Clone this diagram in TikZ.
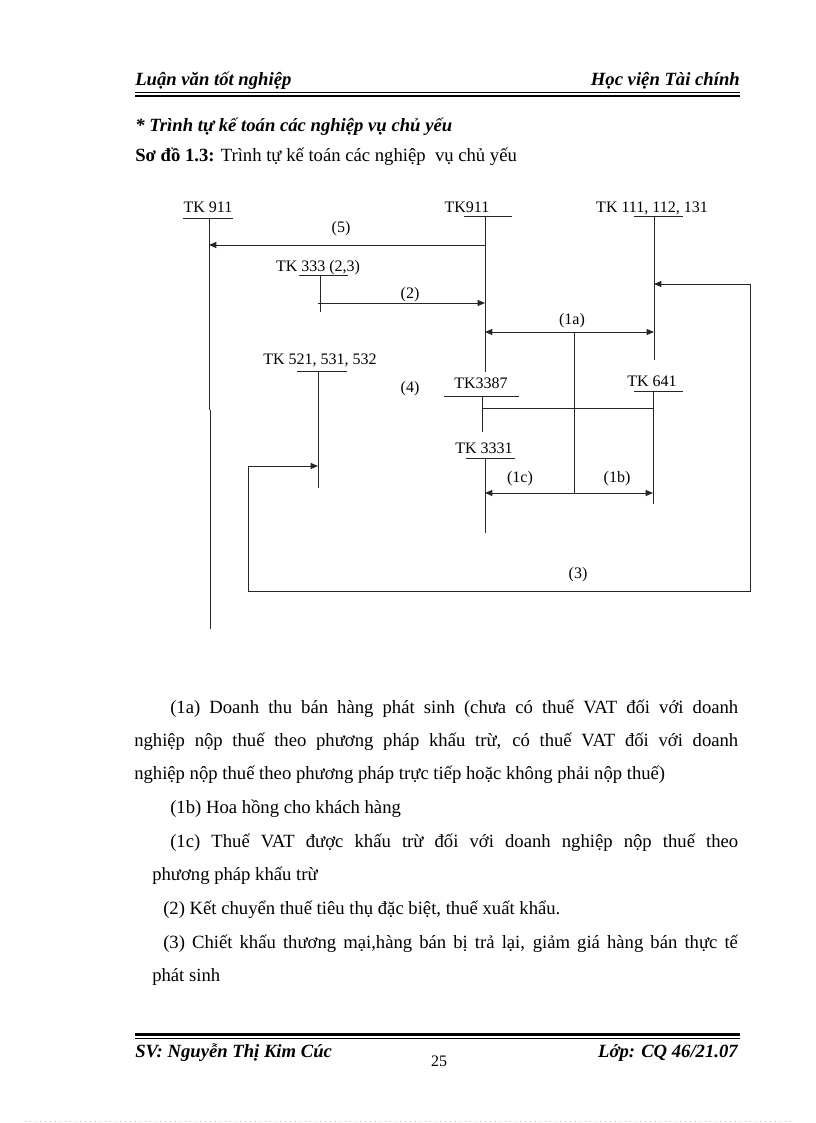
\documentclass[tikz,border=0pt]{standalone}
\usepackage{fontspec}
\setmainfont{Liberation Serif}
\usetikzlibrary{arrows.meta}
\begin{document}
\begin{tikzpicture}[x=0.75pt,y=-0.75pt,
  ln/.style={line width=0.75pt, draw=black!85},
  arr/.style={ln, -{Triangle[length=5.5pt,width=4.5pt]}},
  darr/.style={ln, {Triangle[length=5.5pt,width=4.5pt]}-{Triangle[length=5.5pt,width=4.5pt]}},
  lbl/.style={font=\fontsize{12}{14}\selectfont, anchor=base, inner sep=0pt},
  hdr/.style={font=\fontsize{14}{16}\selectfont\bfseries\itshape, inner sep=0pt},
  body/.style={font=\fontsize{14}{16}\selectfont, anchor=base west, inner sep=0pt}]
\useasboundingbox (0,0) rectangle (816,1123);
\fill[white] (0,0) rectangle (816,1123);

% ---------- header ----------
\node[hdr, anchor=base west] (hl) at (135,86) {Luận văn tốt nghiệp};
\node[hdr, anchor=base east] (hr) at (740,86) {Học viện Tài chính};
\coordinate (hA1) at (135,92.7); \coordinate (hA2) at (740,92.7);
\coordinate (hB1) at (135,96);   \coordinate (hB2) at (740,96);
\draw[line width=0.75pt] (hA1) -- (hA2);
\draw[line width=2pt] (hB1) -- (hB2);

\node[hdr, anchor=base west] (ttl) at (135,132) {* Trình tự kế toán các nghiệp vụ chủ yếu};
\node[body] (sd) at (135,162) {\textbf{Sơ đồ 1.3:} Trình tự kế toán các nghiệp\hspace{0.25em} vụ chủ yếu};

% ---------- diagram labels ----------
\node[lbl] (t911a) at (208,213) {TK 911};
\node[lbl] (t911b) at (467,213) {TK911};
\node[lbl] (t111) at (652,213) {TK 111, 112, 131};
\node[lbl] (t333) at (318,271) {TK 333 (2,3)};
\node[lbl] (t521) at (320,364) {TK 521, 531, 532};
\node[lbl] (t3387) at (481,388) {TK3387};
\node[lbl] (t641) at (652,386) {TK 641};
\node[lbl] (t3331) at (484,453) {TK 3331};

\node[lbl] (l5) at (341,233) {(5)};
\node[lbl] (l2) at (410,298) {(2)};
\node[lbl] (l1a) at (572,324) {(1a)};
\node[lbl] (l4) at (410,392) {(4)};
\node[lbl] (l1c) at (520,482) {(1c)};
\node[lbl] (l1b) at (617,482) {(1b)};
\node[lbl] (l3) at (578,578) {(3)};

% ---------- account bars (T-accounts) ----------
\coordinate (u911aL) at (183,219); \coordinate (u911aR) at (233,219);
\coordinate (u911bL) at (464,217); \coordinate (u911bR) at (512,217);
\coordinate (u111L) at (634,217);  \coordinate (u111R) at (683,217);
\coordinate (u333L) at (299,275);  \coordinate (u333R) at (348,275);
\coordinate (u521L) at (297,371);  \coordinate (u521R) at (347,371);
\coordinate (u3387L) at (444,396); \coordinate (u3387R) at (519,396);
\coordinate (u641L) at (634,391);  \coordinate (u641R) at (683,391);
\coordinate (u3331L) at (466,458); \coordinate (u3331R) at (515,458);
\foreach \u in {911a,911b,111,333,521,3387,641,3331}
  \draw[ln] (u\u L) -- (u\u R);

% vertical lines
\coordinate (v911a1) at (209,219); \coordinate (v911a2) at (209,410);
\coordinate (v911a3) at (210.5,410); \coordinate (v911a4) at (210.5,629);
\coordinate (v911b1) at (485,217); \coordinate (v911b2) at (485,372);
\coordinate (v111a) at (654,217);  \coordinate (v111b) at (654,360);
\coordinate (v333a) at (320,275);  \coordinate (v333b) at (320,312);
\coordinate (v521a) at (318,371);  \coordinate (v521b) at (318,488);
\coordinate (v3387a) at (482,396); \coordinate (v3387b) at (482,432);
\coordinate (v641a) at (653,391);  \coordinate (v641b) at (653,504);
\coordinate (v3331a) at (485,458); \coordinate (v3331b) at (485,533);
\draw[ln] (v911a1) -- (v911a2);
\draw[ln] (v911a3) -- (v911a4);
\draw[ln] (v911b1) -- (v911b2);
\draw[ln] (v111a) -- (v111b);
\draw[ln] (v333a) -- (v333b);
\draw[ln] (v521a) -- (v521b);
\draw[ln] (v3387a) -- (v3387b);
\draw[ln] (v641a) -- (v641b);
\draw[ln] (v3331a) -- (v3331b);

% ---------- connectors ----------
% (5)
\coordinate (c5a) at (485,245); \coordinate (c5b) at (209,245);
\draw[arr] (c5a) -- (c5b);
% (2)
\coordinate (c2a) at (318,303); \coordinate (c2b) at (485,303);
\draw[arr] (c2a) -- (c2b);
% (1a)
\coordinate (c1aL) at (485,332); \coordinate (c1aR) at (654,332);
\draw[darr] (c1aL) -- (c1aR);
\coordinate (c1m) at (574,332); \coordinate (c1n) at (574,493);
\draw[ln] (c1m) -- (c1n);
% 3387 - 641
\coordinate (c38a) at (482,408); \coordinate (c38b) at (653,408);
\draw[ln] (c38a) -- (c38b);
% (1c)/(1b)
\coordinate (c1cL) at (485,493); \coordinate (c1cR) at (653,493);
\draw[darr] (c1cL) -- (c1cR);
% (3)
\coordinate (c3a) at (750,284); \coordinate (c3b) at (654,284);
\coordinate (c3c) at (750,591); \coordinate (c3d) at (248,591);
\coordinate (c3e) at (248,466); \coordinate (c3f) at (318,466);
\draw[arr] (c3a) -- (c3b);
\draw[arr] (c3a) -- (c3c) -- (c3d) -- (c3e) -- (c3f);

% ---------- explanation text ----------
\node[body] (p1) at (170,713) {\makebox[426pt][s]{(1a) Doanh thu bán hàng phát sinh (chưa có thuế VAT đối với doanh}};
\node[body] (p2) at (134,746) {\makebox[453pt][s]{nghiệp nộp thuế theo phương pháp khấu trừ, có thuế VAT đối với doanh}};
\node[body] (p3) at (134,779) {nghiệp nộp thuế theo phương pháp trực tiếp hoặc không phải nộp thuế)};
\node[body] (p4) at (170,813) {(1b) Hoa hồng cho khách hàng};
\node[body] (p5) at (170,847) {\makebox[426pt][s]{(1c) Thuế VAT được khấu trừ đối với doanh nghiệp nộp thuế theo}};
\node[body] (p6) at (152,880) {phương pháp khấu trừ};
\node[body] (p7) at (163,914) {(2) Kết chuyển thuế tiêu thụ đặc biệt, thuế xuất khẩu.};
\node[body] (p8) at (163,948) {\makebox[431pt][s]{(3) Chiết khấu thương mại,hàng bán bị trả lại, giảm giá hàng bán thực tế}};
\node[body] (p9) at (152,981) {phát sinh};

% ---------- footer ----------
\coordinate (fA1) at (135,1034.5); \coordinate (fA2) at (740,1034.5);
\coordinate (fB1) at (135,1038.3); \coordinate (fB2) at (740,1038.3);
\draw[line width=2pt] (fA1) -- (fA2);
\draw[line width=0.75pt] (fB1) -- (fB2);
\node[hdr, anchor=base west] (fl) at (135,1057) {SV: Nguyễn Thị Kim Cúc};
\node[font=\fontsize{12}{14}\selectfont, anchor=base, inner sep=0pt] (pg) at (439,1066) {25};
\node[hdr, anchor=base east] (fr) at (738,1057) {Lớp: CQ 46/21.07};

% faint page edge
\coordinate (e1) at (25,1121); \coordinate (e2) at (791,1121);
\draw[black!25, line width=0.5pt, dash pattern=on 0.75pt off 3pt] (e1) -- (e2);
\end{tikzpicture}
\end{document}
